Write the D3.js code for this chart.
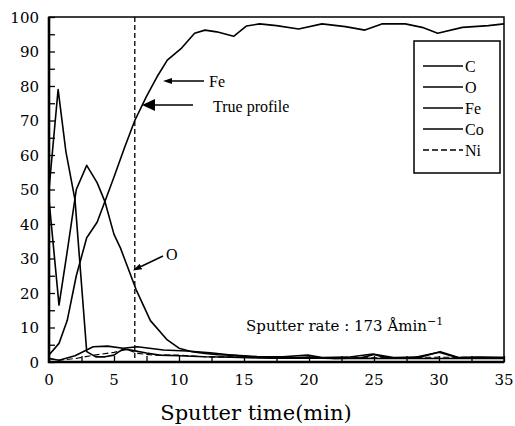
<!DOCTYPE html>
<html>
<head>
<meta charset="utf-8">
<script src="https://cdn.jsdelivr.net/npm/d3@7"></script>
<style>
  html, body { margin: 0; padding: 0; background: #fff; }
  svg { display: block; }
</style>
</head>
<body>
<svg id="chart" width="515" height="426"></svg>
<script>
// ---- data ----
const seriesNames = ["C", "O", "Fe", "Co", "Ni"];

const cX = [0, 0.7, 1.3, 2.0, 2.9, 3.6, 4.3, 5.0, 5.7, 6.5, 7.5, 8.5, 10, 12, 14, 16, 18, 20, 22, 24, 26, 28, 30, 32, 34, 35];
const cY = [50, 79, 61, 47, 3, 1.5, 1.5, 2, 3.8, 3.3, 2.6, 2, 1.8, 1.5, 1.4, 1.2, 1.1, 1.2, 1, 1.1, 1, 1.1, 1, 1.1, 1, 1];

const oX = [0, 0.77, 1.4, 2.1, 2.9, 3.7, 4.3, 5.0, 5.5, 6.7, 7.8, 9.1, 10, 11, 12, 13, 14, 15, 16, 18, 19.9, 21, 23, 24.9, 26.5, 28.5, 30.1, 31.5, 33, 35];
const oY = [47, 16.5, 32, 50, 57, 52, 46.5, 37, 33, 21, 12, 6.4, 4, 3, 2.5, 2.1, 2, 1.8, 1.6, 1.5, 2, 1.3, 1.4, 2.3, 1.3, 1.4, 3, 1.3, 1.4, 1.3];

const feX = [0, 0.77, 1.4, 2.1, 2.9, 3.7, 4.2, 5.0, 5.8, 6.6, 7.5, 8.3, 9.1, 10.2, 11.2, 12.0, 12.9, 14.2, 15.2, 16.2, 17.5, 19.2, 21.0, 22.8, 24.3, 25.6, 27.4, 28.7, 29.9, 31.8, 33.8, 35];
const feY = [2, 5.4, 12, 25, 36, 40.5, 45.5, 53.6, 62, 70, 77, 82.6, 87.5, 91, 95.3, 96.2, 95.7, 94.4, 97.4, 98, 97.5, 96.5, 98, 97.2, 96.2, 98, 98, 97, 95.3, 97, 97.5, 98];

const coX = [0, 0.77, 2.0, 3.4, 4.5, 5.7, 6.8, 8.8, 10.6, 12.4, 14, 15.5, 17, 19, 20, 22, 24, 25, 26, 28, 30, 31.5, 33, 35];
const coY = [1, 0.5, 1.8, 4.4, 4.6, 4, 4.4, 3.5, 3.2, 2.7, 2, 1.5, 1.2, 1.2, 1.4, 1, 1.2, 2.2, 1.2, 1.2, 2.8, 1.2, 1.3, 1.3];

const niX = [0, 0.77, 2.0, 3.5, 5.0, 6.0, 6.8, 8.0, 10, 12, 15, 18, 21, 24, 27, 30, 33, 35];
const niY = [1, 0.5, 1, 2, 2.8, 3.6, 2.5, 2, 2, 1.5, 1.5, 1.2, 1.3, 1.2, 1.3, 1.4, 1.3, 1.2];

const xTicks = [0, 5, 10, 15, 20, 25, 30, 35];
const yTicks = [0, 10, 20, 30, 40, 50, 60, 70, 80, 90, 100];
const xLabel = "Sputter time(min)";
const trueProfileX = 6.6;

// ---- layout ----
const svg = d3.select("#chart");
const pL = 49, pR = 504, pT = 17, pB = 362;
const x = d3.scaleLinear().domain([0, 35]).range([pL, pR]);
const y = d3.scaleLinear().domain([0, 100]).range([pB, pT]);

const serif = "'DejaVu Serif', serif";
const times = "'Liberation Serif', 'Times New Roman', serif";

// markers
const defs = svg.append("defs");
function marker(id, w, h) {
  defs.append("marker").attr("id", id)
    .attr("viewBox", `0 0 ${w} ${h}`).attr("refX", 0).attr("refY", h / 2)
    .attr("markerWidth", w).attr("markerHeight", h)
    .attr("markerUnits", "userSpaceOnUse").attr("orient", "auto")
    .append("path").attr("d", `M${w},${h/2} L0,0 L0,${h} Z`).attr("fill", "#000");
}
marker("arrSmall", 9, 6);
marker("arrBig", 13, 12);

// dashed "true profile" line
svg.append("line")
  .attr("x1", x(trueProfileX)).attr("x2", x(trueProfileX))
  .attr("y1", y(100)).attr("y2", y(0))
  .attr("stroke", "#000").attr("stroke-width", 1.3)
  .attr("stroke-dasharray", "5,3");

// series
const line = d3.line().x(d => x(d[0])).y(d => y(d[1]));
const series = [
  { name: "C", xs: cX, ys: cY, dash: null },
  { name: "O", xs: oX, ys: oY, dash: null },
  { name: "Fe", xs: feX, ys: feY, dash: null },
  { name: "Co", xs: coX, ys: coY, dash: null },
  { name: "Ni", xs: niX, ys: niY, dash: "6,3" }
];
series.forEach(s => {
  svg.append("path")
    .datum(s.xs.map((v, i) => [v, s.ys[i]]))
    .attr("d", line)
    .attr("fill", "none").attr("stroke", "#000")
    .attr("stroke-width", s.name === "Ni" ? 1.1 : 1.6)
    .attr("stroke-linejoin", "round")
    .attr("stroke-dasharray", s.dash);
});

// frame
svg.append("rect").attr("x", pL).attr("y", pT)
  .attr("width", pR - pL).attr("height", pB - pT)
  .attr("fill", "none").attr("stroke", "#000").attr("stroke-width", 1.5);
svg.append("line").attr("x1", pL).attr("x2", pL).attr("y1", pT).attr("y2", pB + 1)
  .attr("stroke", "#000").attr("stroke-width", 2.6);
svg.append("line").attr("x1", pL - 1).attr("x2", pR).attr("y1", pB).attr("y2", pB)
  .attr("stroke", "#000").attr("stroke-width", 2.6);

// inward ticks
const yAxis = d3.axisRight(y).tickValues(d3.range(0, 101, 5)).tickSize(6).tickFormat("");
svg.append("g").attr("transform", `translate(${pL},0)`).call(yAxis)
  .call(g => g.select(".domain").remove())
  .call(g => g.selectAll("line").attr("stroke-width", 1.3));
const xAxis = d3.axisTop(x).tickValues(d3.range(0, 35.1, 2.5)).tickSize(6).tickFormat("");
svg.append("g").attr("transform", `translate(0,${pB})`).call(xAxis)
  .call(g => g.select(".domain").remove())
  .call(g => g.selectAll("line").attr("stroke-width", 1.3));

// tick labels
svg.append("g").selectAll("text").data(yTicks).join("text")
  .attr("x", pL - 10).attr("y", d => y(d) + 5.5)
  .attr("text-anchor", "end").attr("font-family", serif).attr("font-size", 15)
  .text(d => d);
svg.append("g").selectAll("text").data(xTicks).join("text")
  .attr("x", d => x(d)).attr("y", pB + 23)
  .attr("text-anchor", "middle").attr("font-family", serif).attr("font-size", 15)
  .text(d => d);

// axis title
svg.append("text").attr("x", 256).attr("y", 420)
  .attr("text-anchor", "middle").attr("font-family", serif).attr("font-size", 21)
  .text(xLabel);

// legend
const lg = svg.append("g");
lg.append("rect").attr("x", 414).attr("y", 41).attr("width", 86).attr("height", 132)
  .attr("fill", "#fff").attr("stroke", "#000").attr("stroke-width", 1.5);
seriesNames.forEach((n, i) => {
  const yy = 66 + i * 21;
  lg.append("line").attr("x1", 423).attr("x2", 463).attr("y1", yy).attr("y2", yy)
    .attr("stroke", "#000").attr("stroke-width", 1.3)
    .attr("stroke-dasharray", n === "Ni" ? "6,3" : null);
  lg.append("text").attr("x", 465).attr("y", yy + 6)
    .attr("font-family", times).attr("font-size", 16).text(n);
});

// annotations
svg.append("line").attr("x1", 204).attr("y1", 81).attr("x2", 172).attr("y2", 81)
  .attr("stroke", "#000").attr("stroke-width", 1.5).attr("marker-end", "url(#arrSmall)");
svg.append("text").attr("x", 209).attr("y", 87).attr("font-family", times).attr("font-size", 16).text("Fe");

svg.append("line").attr("x1", 193).attr("y1", 105).attr("x2", 155).attr("y2", 105)
  .attr("stroke", "#000").attr("stroke-width", 1.5).attr("marker-end", "url(#arrBig)");
svg.append("text").attr("x", 213).attr("y", 112).attr("font-family", times).attr("font-size", 16).text("True profile");

svg.append("line").attr("x1", 163).attr("y1", 256).attr("x2", 141).attr("y2", 266.5)
  .attr("stroke", "#000").attr("stroke-width", 1.5).attr("marker-end", "url(#arrSmall)");
svg.append("text").attr("x", 166).attr("y", 260).attr("font-family", times).attr("font-size", 16).text("O");

const sr = svg.append("text").attr("x", 246).attr("y", 331)
  .attr("font-family", serif).attr("font-size", 15);
sr.append("tspan").text("Sputter rate : 173 Åmin");
sr.append("tspan").attr("dy", -6).attr("font-size", 11).text("−1");
</script>
</body>
</html>
